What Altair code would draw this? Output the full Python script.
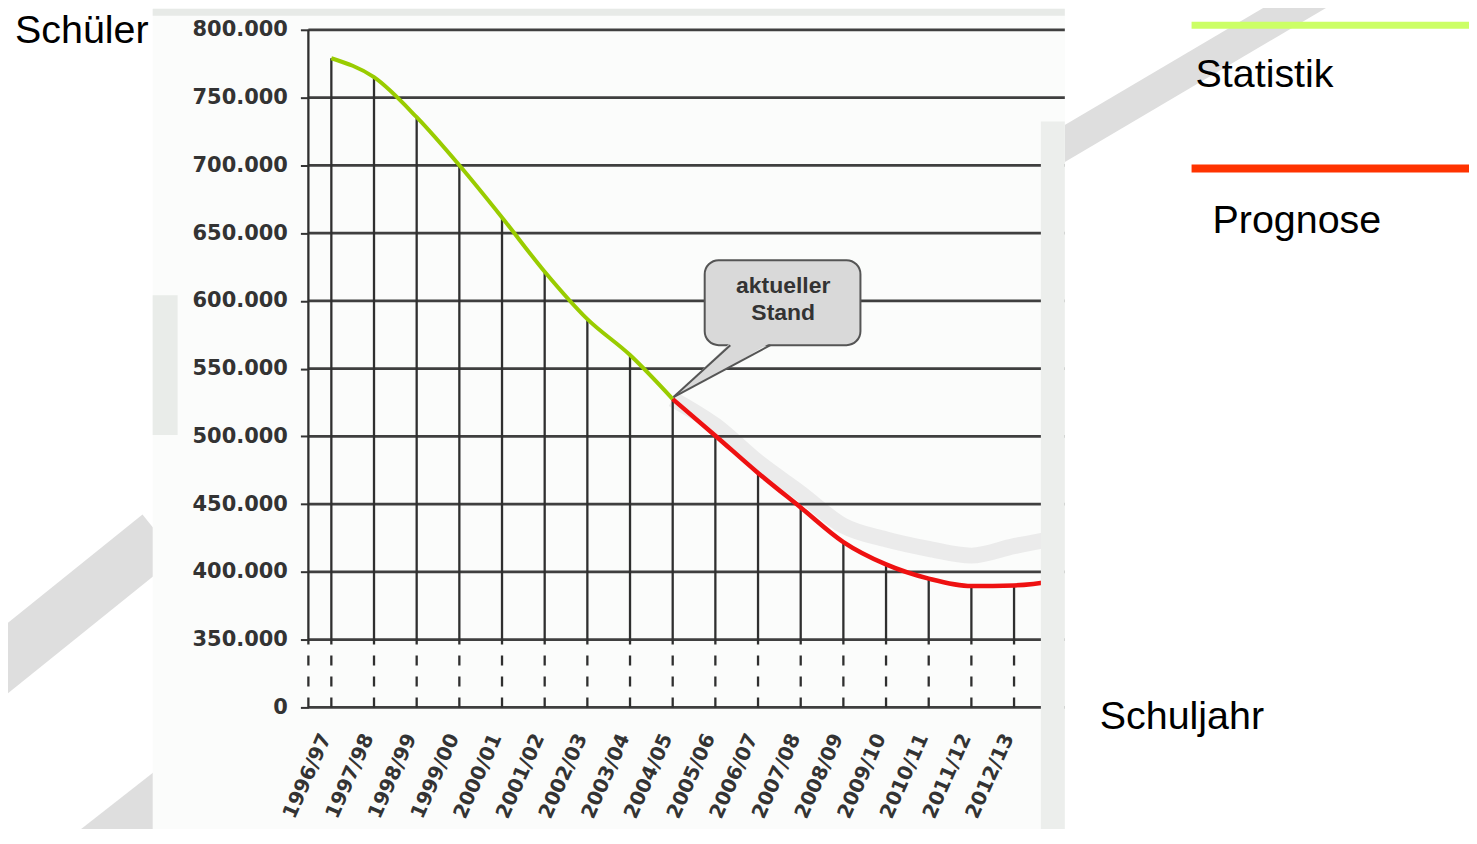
import json
import altair as alt
import pandas as pd

# ---------------- data ----------------
years = ["1996/97", "1997/98", "1998/99", "1999/00", "2000/01", "2001/02",
         "2002/03", "2003/04", "2004/05", "2005/06", "2006/07", "2007/08",
         "2008/09", "2009/10", "2010/11", "2011/12", "2012/13"]
stat_idx = [0, 1, 2, 3, 4, 5, 6, 7, 8]
stat_vals = [779000, 765000, 735500, 700000, 661500, 621500, 586500, 560000, 527500]
prog_idx = [8, 9, 10, 11, 12, 13, 14, 15, 16, 17]
prog_vals = [527500, 500500, 473000, 447500, 422000, 405500, 395000, 389500, 390000, 393500]
ghost_vals = [527500, 508000, 481000, 458000, 434000, 424000, 417000, 412000, 419000, 425000]
yticks = [300000, 350000, 400000, 450000, 500000, 550000, 600000, 650000, 700000, 750000, 800000]
callout_lines = ["aktueller", "Stand"]

# ---------------- tables ----------------
all_vals = stat_vals[:-1] + prog_vals
drops = pd.DataFrame({
    "idx": list(range(len(years))),
    "val": all_vals[:len(years)],
    "lo": yticks[0],
    "brk": yticks[1],
})
stat_df = pd.DataFrame({"idx": stat_idx, "val": stat_vals})
prog_df = pd.DataFrame({"idx": prog_idx, "val": prog_vals})
ghost_df = pd.DataFrame({"idx": prog_idx, "val": ghost_vals})
tick_df = pd.DataFrame({"val": yticks})
axis_df = pd.DataFrame({"top": [yticks[-1]], "brk": [yticks[1]], "lo": [yticks[0]]})
one = alt.Data(values=[{"k": 1}])

# callout geometry (data coordinates)
tip = (8.02, 529000)
base_a = (9.35, 567300)
base_b = (10.29, 567300)
bubble = pd.DataFrame({"x0": [8.75], "x1": [12.4], "y0": [630000], "y1": [567300]})
frac = (base_a[0] - tip[0]) / (base_b[0] - tip[0])
tri = pd.DataFrame({
    "idx": [tip[0], base_a[0], base_b[0]],
    "top": [tip[1], base_a[1] + 1800, base_b[1] + 1800],
    "bot": [tip[1], tip[1] + frac * (base_b[1] - tip[1]), base_b[1] + 1800],
})
edges = pd.DataFrame({"x0": [tip[0], tip[0]], "x1": [base_a[0], base_b[0]],
                      "y0": [tip[1], tip[1]], "y1": [base_a[1], base_b[1]]})
label_df = pd.DataFrame({"idx": [10.59], "val": [610700], "t": [callout_lines]})

# ---------------- scales / axes ----------------
TICKFONT = "DejaVu Sans"
xscale = alt.Scale(domain=[-0.538, 17.19], nice=False, zero=False)
yscale = alt.Scale(domain=[yticks[0], yticks[-1]], nice=False, zero=False)
xaxis = alt.Axis(values=list(range(len(years))),
                 labelExpr=json.dumps(years) + "[datum.value]",
                 labelAngle=294, labelAlign="right", labelBaseline="middle",
                 labelPadding=27, labelOffset=-6, ticks=False, domain=False, grid=False, title=None,
                 labelFont=TICKFONT, labelFontSize=20, labelFontWeight="bold",
                 labelColor="#333333", labelOverlap=False, labelFlush=False, zindex=1)
yaxis = alt.Axis(values=yticks,
                 labelExpr="datum.value == 300000 ? '0' : replace(format(datum.value, ','), ',', '.')",
                 grid=False, domain=False, ticks=True, tickSize=8, tickWidth=2,
                 tickColor="#333333", labelPadding=13, title=None,
                 labelFont=TICKFONT, labelFontSize=21, labelFontWeight="bold",
                 labelColor="#333333", labelOverlap=False, labelFlush=False, zindex=1)


def X(f):
    return alt.X(f"{f}:Q", scale=xscale, axis=xaxis)


def Y(f):
    return alt.Y(f"{f}:Q", scale=yscale, axis=yaxis)


# ---------------- decoration helpers (pixel positions relative to plot origin) ----
def deco_rule(x, y, x2, y2, color, width):
    return alt.Chart(one).mark_rule(color=color, strokeWidth=width, strokeCap="butt").encode(
        x=alt.value(x), y=alt.value(y), x2=alt.value(x2), y2=alt.value(y2))


def deco_rect(x, x2, y, y2, color):
    return alt.Chart(one).mark_rect(color=color).encode(
        x=alt.value(x), x2=alt.value(x2), y=alt.value(y), y2=alt.value(y2))


def label(text, x, y, size=39.5):
    return alt.Chart(one).mark_text(text=text, align="left", baseline="alphabetic",
                                    font="Liberation Sans", fontSize=size, color="black").encode(
        x=alt.value(x), y=alt.value(y))


stripes = [
    deco_rule(-339, 660, -149, 507, "#dedede", 55),
    deco_rule(-254, 850, -139, 760, "#dedede", 45),
    deco_rule(741, 124, 1041, -53, "#dedede", 32),
]
chart_bg = [
    deco_rect(-156, 758, -21, 815, "#fbfcfb"),
    deco_rect(-156, 758, -21, -14, "#e7eae7"),
    deco_rect(-156, -131, 266, 406, "#e9ece9"),
]

ghost = alt.Chart(ghost_df).mark_line(color="#ebebeb", strokeWidth=16, interpolate="monotone",
                                      strokeCap="butt").encode(x=X("idx"), y=Y("val"))
grid = alt.Chart(tick_df).mark_rule(color="#3f3f3f", strokeWidth=2.8).encode(y=Y("val"))
axis_solid = alt.Chart(axis_df).mark_rule(color="#2f2f2f", strokeWidth=2.3).encode(
    x=alt.value(0), y=Y("top"), y2=alt.Y2("brk"))
axis_dash = alt.Chart(axis_df).mark_rule(color="#2f2f2f", strokeWidth=2.3, strokeDash=[10, 11]).encode(
    x=alt.value(0), y=Y("lo"), y2=alt.Y2("brk"))
drop_solid = alt.Chart(drops).mark_rule(color="#2f2f2f", strokeWidth=2.3).encode(
    x=X("idx"), y=Y("val"), y2=alt.Y2("brk"))
drop_dash = alt.Chart(drops).mark_rule(color="#2f2f2f", strokeWidth=2.3, strokeDash=[10, 11]).encode(
    x=X("idx"), y=Y("lo"), y2=alt.Y2("brk"))
green = alt.Chart(stat_df).mark_line(color="#99cc00", strokeWidth=4, interpolate="monotone").encode(
    x=X("idx"), y=Y("val"))
red = alt.Chart(prog_df).mark_line(color="#ee1111", strokeWidth=4.5, interpolate="monotone").encode(
    x=X("idx"), y=Y("val"))

bubble_rect = alt.Chart(bubble).mark_rect(fill="#d9d9d9", stroke="#555555", strokeWidth=2,
                                          cornerRadius=14).encode(
    x=X("x0"), x2=alt.X2("x1"), y=Y("y0"), y2=alt.Y2("y1"))
tri_area = alt.Chart(tri).mark_area(color="#d9d9d9", interpolate="linear").encode(
    x=X("idx"), y=Y("top"), y2=alt.Y2("bot"))
tri_edges = alt.Chart(edges).mark_rule(color="#555555", strokeWidth=2).encode(
    x=X("x0"), x2=alt.X2("x1"), y=Y("y0"), y2=alt.Y2("y1"))
callout_text = alt.Chart(label_df).mark_text(font="Liberation Sans", fontSize=23, fontWeight="bold",
                                             color="#333333", lineHeight=27, baseline="middle").encode(
    x=X("idx"), y=Y("val"), text="t")

right_strip = deco_rect(734, 758, 92, 815, "#eceeec")

legend = [
    deco_rule(885, -4.5, 1168, -4.5, "#ccff66", 7),
    deco_rule(885, 139, 1168, 139, "#ff3300", 8),
    label("Statistik", 889, 57),
    label("Prognose", 906, 204),
    label("Schuljahr", 793, 701),
    label("Schüler", -294, 13),
]

chart = alt.layer(
    *stripes, *chart_bg, ghost, grid, axis_solid, axis_dash, drop_solid, drop_dash,
    green, red, bubble_rect, tri_area, tri_edges, callout_text, right_strip, *legend
).properties(
    width=758, height=679,
    autosize=alt.AutoSizeParams(type="none"),
    padding={"left": 301, "top": 21, "right": 405, "bottom": 121},
    background="white",
).configure_view(stroke=None)

chart.save("out.html", embed_options={"renderer": "svg", "actions": False})
